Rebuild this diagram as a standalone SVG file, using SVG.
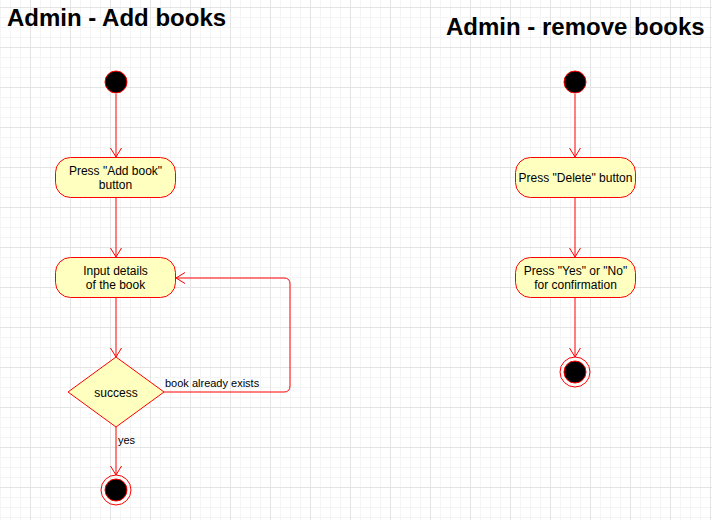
<svg xmlns="http://www.w3.org/2000/svg" width="712" height="520" viewBox="0 0 712 520">
<defs>
<pattern id="minor" width="10" height="10" patternUnits="userSpaceOnUse" x="0" y="7">
<path d="M0.5 0V10M0 0.5H10" stroke="#f4f4f4" stroke-width="1" fill="none"/>
</pattern>
<pattern id="major" width="40" height="40" patternUnits="userSpaceOnUse" x="30" y="7">
<path d="M0.5 0V40M0 0.5H40" stroke="#e4e4e4" stroke-width="1" fill="none"/>
</pattern>
<marker id="arr" markerWidth="12" markerHeight="14" refX="10" refY="7" orient="auto" markerUnits="userSpaceOnUse">
<path d="M1 1.5L10 7L1 12.5" fill="none" stroke="#ff0000" stroke-width="1"/>
</marker>
</defs>
<style>
.act{fill:#ffffc0;stroke:#ff0000;stroke-width:1}
.start{fill:#000;stroke:#ff0000;stroke-width:1}
.endo{fill:none;stroke:#ff0000;stroke-width:1}
.t{font-family:"Liberation Sans",Arial,sans-serif;font-size:12px;fill:#000;text-anchor:middle}
.lbl{font-family:"Liberation Sans",Arial,sans-serif;font-size:11px;fill:#000}
.title{font-family:"Liberation Sans",Arial,sans-serif;font-size:24px;font-weight:bold;fill:#000}
.e{fill:none;stroke:#ff0000;stroke-width:1;marker-end:url(#arr)}
</style>
<rect width="712" height="520" fill="#fff"/>
<rect width="712" height="520" fill="url(#minor)"/>
<rect width="712" height="520" fill="url(#major)"/>

<text class="title" x="7" y="26">Admin - Add books</text>
<text class="title" x="446" y="35">Admin - remove books</text>

<g id="connectors">
<path class="e" d="M116 94V157"/>
<path class="e" d="M116 198V257"/>
<path class="e" d="M116 298V357"/>
<path class="e" d="M116 427V475"/>
<path class="e" d="M164 392H284Q290 392 290 386V284Q290 278 284 278H176"/>
<path class="e" d="M575 94V157"/>
<path class="e" d="M575 198V257"/>
<path class="e" d="M575 298V357"/>
<text class="lbl" x="165" y="386.5">book already exists</text>
<text class="lbl" x="118" y="444">yes</text>
</g>

<g id="start1"><circle class="start" cx="116" cy="82" r="11"/></g>
<g id="addbook"><rect class="act" x="55.5" y="157.5" width="120" height="40" rx="15"/>
<text class="t" x="115.5" y="174.5">Press "Add book"</text><text class="t" x="115.5" y="189">button</text></g>
<g id="input"><rect class="act" x="55.5" y="257.5" width="120" height="40" rx="15"/>
<text class="t" x="115.5" y="274.5">Input details</text><text class="t" x="115.5" y="289">of the book</text></g>
<g id="success"><path class="act" d="M116 357L164 392L116 427L68 392Z"/>
<text class="t" x="116" y="396.5">success</text></g>
<g id="end1"><circle class="endo" cx="116" cy="490" r="15"/><circle class="start" cx="116" cy="490" r="11"/></g>

<g id="start2"><circle class="start" cx="575" cy="82" r="11"/></g>
<g id="delete"><rect class="act" x="515.5" y="157.5" width="120" height="40" rx="15"/>
<text class="t" x="575.5" y="182">Press "Delete" button</text></g>
<g id="confirm"><rect class="act" x="515.5" y="257.5" width="120" height="40" rx="15"/>
<text class="t" x="575.5" y="274.5">Press "Yes" or "No"</text><text class="t" x="575.5" y="289">for confirmation</text></g>
<g id="end2"><circle class="endo" cx="575" cy="372" r="15"/><circle class="start" cx="575" cy="372" r="11"/></g>
</svg>
